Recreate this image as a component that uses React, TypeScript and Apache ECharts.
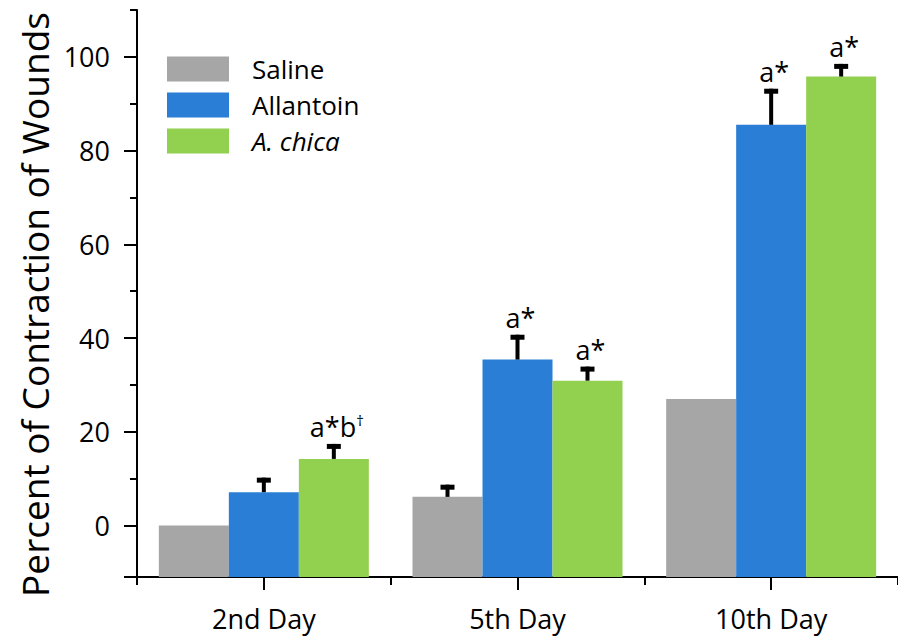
import React, { useEffect, useRef } from "react";
import * as echarts from "echarts";

// Wound contraction (%) by treatment group and day
const days = ["2nd Day", "5th Day", "10th Day"];
const groups = ["Saline", "Allantoin", "A. chica"];

const salineMean = [0, 6.1, 27.0];
const salineErr = [0, 2.6, 0];
const allantoinMean = [7.1, 35.4, 85.5];
const allantoinErr = [3.1, 5.3, 7.7];
const chicaMean = [14.2, 30.9, 95.8];
const chicaErr = [3.2, 3.0, 2.7];

// significance marks printed above each bar
const salineMarks = ["", "", ""];
const allantoinMarks = ["", "a*", "a*"];
const chicaMarks = ["a*b†", "a*", "a*"];

// value axis
const Y_MIN = -11;
const Y_MAX = 110;
const yLabelValues = [0, 20, 40, 60, 80, 100];
const yMajorTicks = [Y_MIN, 0, 20, 40, 60, 80, 100];
const yMinorTicks = [10, 30, 50, 70, 90, 110];

const colors = ["#A6A6A6", "#2B7ED6", "#92D050"];
const FONT = "'Open Sans', 'DejaVu Sans', sans-serif";
const BAR_W = 70;

function errorLayer(means: number[], errs: number[], marks: string[], slot: number) {
  return {
    type: "custom",
    z: 5,
    silent: true,
    xAxisIndex: 0,
    yAxisIndex: 0,
    data: means.map((m, i) => [i, m, errs[i]]),
    encode: { x: 0, y: 1 },
    renderItem: (params: any, api: any) => {
      const i = params.dataIndex;
      const cat = api.value(0);
      const mean = api.value(1);
      const err = api.value(2);
      const base = api.coord([cat, mean]);
      const cx = base[0] + slot * BAR_W;
      const children: any[] = [];
      let topY = base[1];
      if (err > 0) {
        const tip = api.coord([cat, mean + err]);
        children.push({
          type: "rect",
          shape: { x: cx - 2, y: tip[1], width: 4, height: base[1] - tip[1] },
          style: { fill: "#000" },
        });
        children.push({
          type: "rect",
          shape: { x: cx - 7, y: tip[1], width: 14, height: 5 },
          style: { fill: "#000" },
        });
        topY = tip[1];
      }
      if (marks[i]) {
        children.push({
          type: "text",
          x: cx + 3,
          y: topY - 4,
          style: {
            text: marks[i].replace("†", "{s|†}"),
            fill: "#000",
            font: `27px ${FONT}`,
            align: "center",
            verticalAlign: "bottom",
            rich: {
              s: { fontSize: 15, fontFamily: FONT, fill: "#000", verticalAlign: "top" },
            },
          },
        });
      }
      return { type: "group", children };
    },
  };
}

export default function App() {
  const ref = useRef<HTMLDivElement>(null);

  useEffect(() => {
    if (!ref.current) return;
    const chart = echarts.init(ref.current, undefined, { renderer: "svg" });
    const axisColor = "#000";
    const barSeries = [salineMean, allantoinMean, chicaMean].map((vals, k) => ({
      type: "bar",
      name: groups[k],
      data: vals,
      barWidth: BAR_W,
      barGap: "0%",
      itemStyle: { color: colors[k] },
      xAxisIndex: 0,
      yAxisIndex: 0,
    }));

    chart.setOption({
      animation: false,
      backgroundColor: "#fff",
      textStyle: { fontFamily: FONT },
      grid: { left: 137, right: -7, top: 10, bottom: 60, containLabel: false },
      legend: {
        orient: "vertical",
        left: 167,
        top: 56,
        padding: 0,
        itemWidth: 62,
        itemHeight: 25,
        itemGap: 10,
        icon: "rect",
        selectedMode: false,
        textStyle: {
          fontSize: 26,
          fontFamily: FONT,
          color: "#000",
          lineHeight: 26,
          padding: [0, 0, 0, 18],
        },
        data: [
          { name: groups[0] },
          { name: groups[1] },
          { name: groups[2], textStyle: { fontStyle: "italic" } },
        ],
      },
      xAxis: [
        {
          type: "category",
          data: days,
          position: "bottom",
          axisLine: { show: true, onZero: false, lineStyle: { color: axisColor, width: 2 } },
          axisTick: { show: true, alignWithLabel: true, length: 13, lineStyle: { color: axisColor, width: 2 } },
          axisLabel: { fontSize: 27, color: "#000", fontFamily: FONT, margin: 28 },
          splitLine: { show: false },
        },
        {
          type: "category",
          data: days,
          position: "bottom",
          axisLine: { show: false, onZero: false },
          axisTick: { show: true, alignWithLabel: false, length: 8, lineStyle: { color: axisColor, width: 2 } },
          axisLabel: { show: false },
          splitLine: { show: false },
        },
      ],
      yAxis: [
        {
          type: "value",
          min: Y_MIN,
          max: Y_MAX,
          startValue: Y_MIN,
          axisLine: { show: true, onZero: false, lineStyle: { color: axisColor, width: 2 } },
          axisTick: { show: true, length: 13, customValues: yMajorTicks, lineStyle: { color: axisColor, width: 2 } },
          splitLine: { show: false },
          axisLabel: {
            fontSize: 27,
            color: "#000",
            fontFamily: FONT,
            margin: 27,
            customValues: yLabelValues,
          },
          name: "Percent of Contraction of Wounds",
          nameLocation: "middle",
          nameGap: 82,
          nameTextStyle: { fontSize: 37, color: "#000", fontFamily: FONT, padding: [0, 22, 0, 0] },
        },
        {
          type: "value",
          position: "left",
          offset: 0,
          min: Y_MIN,
          max: Y_MAX,
          axisLine: { show: false, onZero: false },
          axisTick: { show: true, length: 7, customValues: yMinorTicks, lineStyle: { color: axisColor, width: 2 } },
          axisLabel: { show: false },
          splitLine: { show: false },
        },
      ],
      series: [
        ...barSeries,
        errorLayer(salineMean, salineErr, salineMarks, -1),
        errorLayer(allantoinMean, allantoinErr, allantoinMarks, 0),
        errorLayer(chicaMean, chicaErr, chicaMarks, 1),
      ],
    });
    return () => chart.dispose();
  }, []);

  return (
    <div
      ref={ref}
      style={{ position: "fixed", left: 0, top: 0, width: 898, height: 637, background: "#fff" }}
    />
  );
}
